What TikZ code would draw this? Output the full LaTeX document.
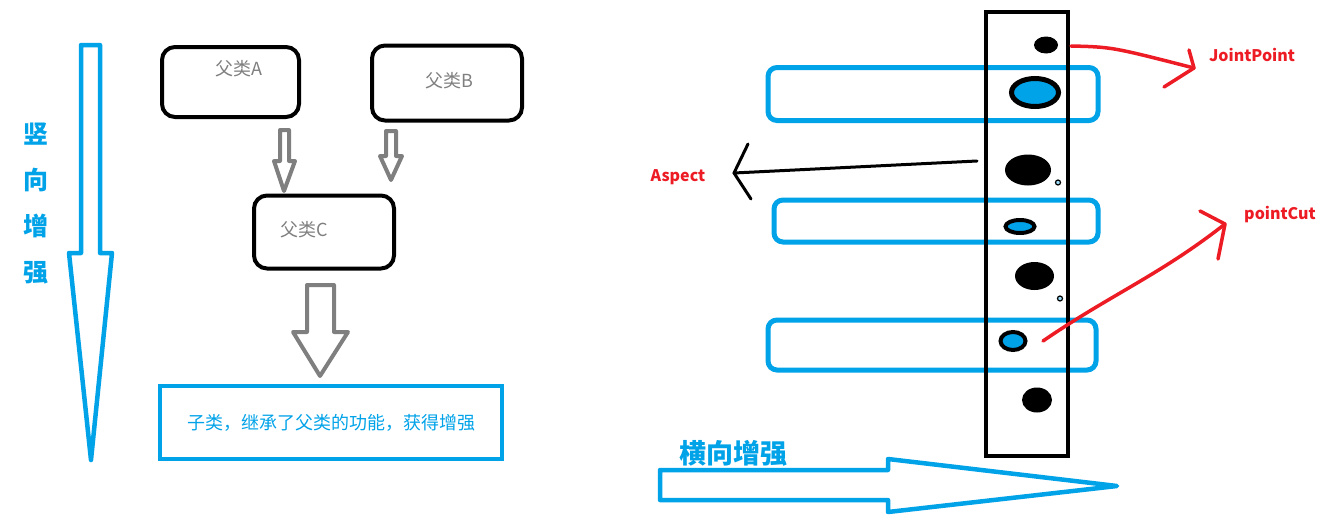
\documentclass[tikz,border=0pt]{standalone}
\usepackage{fontspec}
\setmainfont{Noto Sans CJK SC}
\usetikzlibrary{shapes.geometric}
\definecolor{pblue}{HTML}{00A2E8}
\definecolor{pgray}{HTML}{7F7F7F}
\definecolor{pred}{HTML}{ED1C24}
\tikzset{
	pbox/.style={draw=black, line width=4, rounded corners=13, inner sep=0},
	ptext/.style={text=pgray, inner sep=0, font=\fontsize{18}{20}\selectfont},
	sbox/.style={draw=pblue, line width=4.5, inner sep=0, text=pblue, font=\fontsize{18}{20}\selectfont},
	garrow/.style={draw=pgray, line width=4, line join=round},
	barrow/.style={draw=pblue, line width=4.5, line join=round},
	capsule/.style={draw=pblue, line width=5, rounded corners=9, inner sep=0},
	jdot/.style={ellipse, fill=black, inner sep=0},
	bdot/.style={ellipse, draw=black, fill=pblue, inner sep=0},
	ring/.style={circle, draw=black, fill=pblue!40, line width=1.2, inner sep=0, minimum size=5},
	redline/.style={draw=pred, line width=3.5, line cap=round, line join=round},
	redlbl/.style={text=pred, inner sep=0, font=\bfseries\fontsize{16}{18}\selectfont},
	bluelbl/.style={text=pblue, inner sep=0, font=\bfseries\fontsize{25}{27}\selectfont}
}
\begin{document}
\begin{tikzpicture}[x=1pt, y=-1pt]
	\useasboundingbox (0,0) rectangle (1344,525);
	% VERTICAL ENHANCEMENT
	\draw[barrow] (81,45) -- (100,45) -- (100,253) -- (112,253) -- (91,460) -- (69,253) -- (81,253) -- cycle;
	\node[bluelbl, align=center, font=\bfseries\fontsize{25}{46}\selectfont] (vtext) at (36,204) {竖\\向\\增\\强};
	% PARENT CLASSES
	\node[pbox, minimum width=137, minimum height=70] (pa) at (230.5,82) {};
	\node[pbox, minimum width=150, minimum height=75] (pb) at (447,83) {};
	\node[pbox, minimum width=140, minimum height=73] (pc) at (324,232) {};
	\node[ptext] (ta) at (239,69) {父类A};
	\node[ptext] (tb) at (449,81) {父类B};
	\node[ptext] (tc) at (304,230) {父类C};
	% GRAY ARROWS
	\draw[garrow] (280,130) -- (289,130) -- (289,161) -- (295,161) -- (284,191) -- (274,161) -- (280,161) -- cycle;
	\draw[garrow] (386,131) -- (396,131) -- (396,156) -- (402,156) -- (391,180) -- (380,156) -- (386,156) -- cycle;
	\draw[garrow] (307,285) -- (334,285) -- (334,332) -- (348,332) -- (320,376) -- (293,332) -- (307,332) -- cycle;
	% SUBCLASS
	\node[sbox, minimum width=342, minimum height=73] (sub) at (331,422.5) {子类，继承了父类的功能，获得增强};

	% ASPECTS
	\node[capsule, minimum width=330, minimum height=53] (cap1) at (933,94) {};
	\node[capsule, minimum width=324, minimum height=42] (cap2) at (936,221) {};
	\node[capsule, minimum width=328, minimum height=50] (cap3) at (932,345) {};
	% TARGET
	\node[draw=black, line width=4, minimum width=82, minimum height=444, inner sep=0] (tgt) at (1027,234) {};
	% POINTS
	\node[jdot, minimum width=24, minimum height=17] (d1) at (1046,45) {};
	\node[bdot, line width=5, minimum width=47, minimum height=28] (e1) at (1035,92.5) {};
	\node[jdot, minimum width=46, minimum height=31] (d2) at (1028,170) {};
	\node[ring] (r1) at (1058,182.5) {};
	\node[bdot, line width=4, minimum width=29, minimum height=13] (e2) at (1020,226.5) {};
	\node[jdot, minimum width=39, minimum height=28] (d3) at (1034.5,276) {};
	\node[ring] (r2) at (1060,298.5) {};
	\node[bdot, line width=4, minimum width=25, minimum height=18] (e3) at (1013,341) {};
	\node[jdot, minimum width=30, minimum height=25] (d4) at (1037,400) {};
	% CONNECTORS
	\coordinate (jpfrom) at (1071,46);
	\coordinate (jpto) at (1194,68);
	\draw[redline] (jpfrom) .. controls (1112,47) .. (jpto);
	\draw[redline] (1189,50) -- (jpto) -- (1164,87);
	\node[redlbl] (jp) at (1252,55) {JointPoint};

	\coordinate (asfrom) at (977,161);
	\coordinate (asto) at (734,173);
	\draw[line width=3, line cap=round, line join=round] (asfrom) -- (asto);
	\draw[line width=3, line cap=round, line join=round] (748,144) -- (asto) -- (751,199);
	\node[redlbl] (asp) at (678,177) {Aspect};

	\coordinate (pcfrom) at (1043,341);
	\coordinate (pcto) at (1225,224);
	\draw[redline] (pcfrom) .. controls (1110,295) and (1160,275) .. (pcto);
	\draw[redline] (1200,211) -- (pcto) -- (1218,259);
	\node[redlbl] (pc) at (1280,215) {pointCut};
	% HORIZONTAL ENHANCEMENT
	\draw[barrow] (660,470) -- (888,470) -- (888,459) -- (1117,486) -- (888,512) -- (888,500) -- (660,500) -- cycle;
	\node[bluelbl, font=\bfseries\fontsize{27}{29}\selectfont] (htext) at (733,453) {横向增强};
\end{tikzpicture}
\end{document}
